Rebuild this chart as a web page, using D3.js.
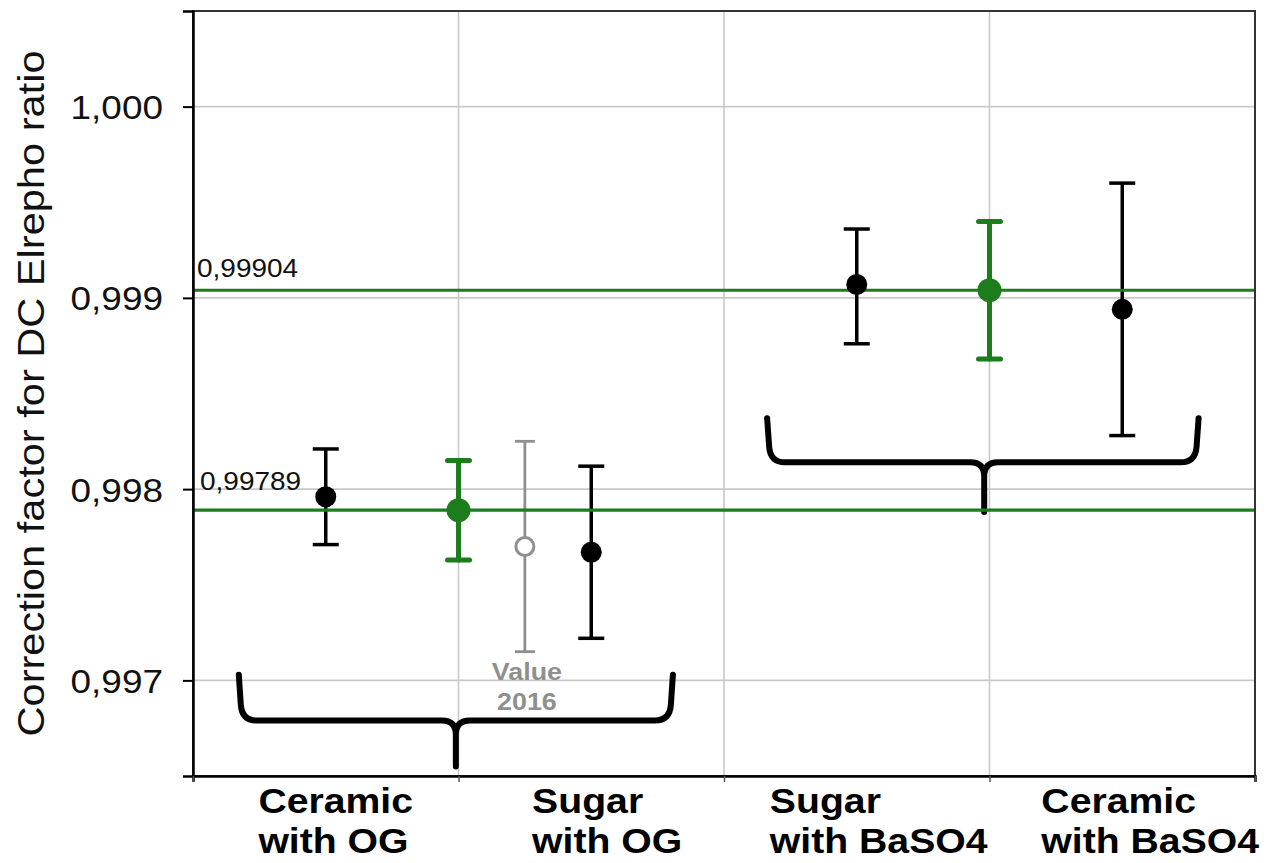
<!DOCTYPE html>
<html lang="en">
<head>
<meta charset="UTF-8">
<title>Correction factor for DC Elrepho ratio</title>
<script src="https://cdn.jsdelivr.net/npm/d3@7"></script>
<style>
  body { margin: 0; background: #fff; }
  text { font-family: "Liberation Sans", Arial, sans-serif; }
</style>
</head>
<body>
<div id="chart"></div>
<script>
// categories along the x axis (one band each)
var categories = [["Ceramic", "with OG"], ["Sugar", "with OG"], ["Sugar", "with BaSO4"], ["Ceramic", "with BaSO4"]];

// measured points (position in band units, value, error bar low / high)
var pointPos   = [0.5, 1.0, 1.25, 1.5, 2.5, 3.0, 3.5];
var pointValue = [0.99796, 0.99789, 0.99770, 0.99767, 0.99907, 0.99904, 0.99894];
var errLow     = [0.99771, 0.99763, 0.99715, 0.99722, 0.99876, 0.99868, 0.99828];
var errHigh    = [0.99821, 0.99815, 0.99825, 0.99812, 0.99936, 0.99940, 0.99960];
var pointKind  = ["black", "green", "old", "black", "black", "green", "black"];

// reference (mean) lines
var refValues = [0.99904, 0.99789];
var refLabels = ["0,99904", "0,99789"];

var yTicks = [0.997, 0.998, 0.999, 1.000];

// group braces: [x start, x cusp, x end] in band units, [top, bar, tip] in values
var braceX = [[0.18, 0.99, 1.80], [2.17, 2.98, 3.78]];
var braceY = [[0.99703, 0.99679, 0.99655], [0.99837, 0.99814, 0.99788]];

var width = 1272, height = 863;
var margin = {top: 11, right: 17, bottom: 87, left: 193};
var stretch = 1.12; // the original lettering is a bit wide

var green = "#1d7d1d", gray = "#8f8f8f";
var styles = {
    black: {stroke: "#000", sw: 3.5, cap: 13, r: 10.5, fill: "#000", linecap: "butt"},
    green: {stroke: green, sw: 5, cap: 11, r: 12, fill: green, linecap: "round"},
    old:   {stroke: gray, sw: 2.8, cap: 10, r: 9, fill: "#fff", linecap: "butt"}
};

function wide(px, py) {
    return "translate(" + px + "," + py + ") scale(" + stretch + ",1)";
}

var svg = d3.select("#chart").append("svg")
    .attr("width", width)
    .attr("height", height);

var x = d3.scaleLinear().domain([0, 4]).range([margin.left, width - margin.right]);
var y = d3.scaleLinear().domain([0.9965, 1.0005]).range([height - margin.bottom, margin.top]);

// grid
svg.append("g").selectAll("line.h")
    .data(yTicks).enter().append("line")
    .attr("x1", x(0)).attr("x2", x(4))
    .attr("y1", function(d) { return y(d); })
    .attr("y2", function(d) { return y(d); })
    .style("stroke", "#c9c9c9").style("stroke-width", 1.6);

svg.append("g").selectAll("line.v")
    .data([1, 2, 3]).enter().append("line")
    .attr("y1", y.range()[0]).attr("y2", y.range()[1])
    .attr("x1", function(d) { return x(d); })
    .attr("x2", function(d) { return x(d); })
    .style("stroke", "#c9c9c9").style("stroke-width", 1.6);

// braces
function bracePath(bx, by) {
    var x0 = x(bx[0]), xc = x(bx[1]), x1 = x(bx[2]);
    var yt = y(by[0]), ym = y(by[1]), yp = y(by[2]);
    var r = 16, c = 14;
    return "M" + (x0 - 2) + "," + yt +
        " L" + x0 + "," + (ym - r) +
        " Q" + (x0 + 1) + "," + ym + " " + (x0 + r) + "," + ym +
        " L" + (xc - c) + "," + ym +
        " Q" + xc + "," + ym + " " + xc + "," + (ym + c) +
        " L" + xc + "," + yp +
        " M" + xc + "," + (ym + c) +
        " Q" + xc + "," + ym + " " + (xc + c) + "," + ym +
        " L" + (x1 - r) + "," + ym +
        " Q" + (x1 - 1) + "," + ym + " " + x1 + "," + (ym - r) +
        " L" + (x1 + 2) + "," + yt;
}
svg.append("g").selectAll("path")
    .data(d3.range(braceX.length)).enter().append("path")
    .attr("d", function(i) { return bracePath(braceX[i], braceY[i]); })
    .style("fill", "none").style("stroke", "#000")
    .style("stroke-width", 6).style("stroke-linejoin", "round").style("stroke-linecap", "round");

// error bars
var idx = d3.range(pointPos.length);
var bars = svg.append("g").selectAll("g")
    .data(idx).enter().append("g")
    .style("stroke", function(i) { return styles[pointKind[i]].stroke; })
    .style("stroke-width", function(i) { return styles[pointKind[i]].sw; })
    .style("stroke-linecap", function(i) { return styles[pointKind[i]].linecap; });

bars.append("line")
    .attr("x1", function(i) { return x(pointPos[i]); })
    .attr("x2", function(i) { return x(pointPos[i]); })
    .attr("y1", function(i) { return y(errLow[i]); })
    .attr("y2", function(i) { return y(errHigh[i]); });
[errLow, errHigh].forEach(function(arr) {
    bars.append("line")
        .attr("x1", function(i) { return x(pointPos[i]) - styles[pointKind[i]].cap; })
        .attr("x2", function(i) { return x(pointPos[i]) + styles[pointKind[i]].cap; })
        .attr("y1", function(i) { return y(arr[i]); })
        .attr("y2", function(i) { return y(arr[i]); });
});

// reference lines
svg.append("g").selectAll("line")
    .data(refValues).enter().append("line")
    .attr("x1", x(0)).attr("x2", x(4))
    .attr("y1", function(d) { return y(d); })
    .attr("y2", function(d) { return y(d); })
    .style("stroke", green).style("stroke-width", 3.2);

svg.append("g").selectAll("text")
    .data(refValues).enter().append("text")
    .attr("transform", function(d, i) {
        return wide(x(0) + (i === 0 ? 4 : 7), y(d) - (i === 0 ? 13 : 20));
    })
    .style("font-size", "25px").style("fill", "#111")
    .text(function(d, i) { return refLabels[i]; });

// points
svg.append("g").selectAll("circle")
    .data(idx).enter().append("circle")
    .attr("cx", function(i) { return x(pointPos[i]); })
    .attr("cy", function(i) { return y(pointValue[i]); })
    .attr("r", function(i) { return styles[pointKind[i]].r; })
    .style("fill", function(i) { return styles[pointKind[i]].fill; })
    .style("stroke", function(i) { return pointKind[i] === "old" ? gray : "none"; })
    .style("stroke-width", 3);

// "Value 2016" note under the old point
var oldIdx = pointKind.indexOf("old");
svg.append("text")
    .attr("transform", wide(x(pointPos[oldIdx]) + 2, y(errLow[oldIdx]) + 28))
    .attr("text-anchor", "middle")
    .style("font-size", "24px").style("font-weight", "bold").style("fill", gray)
    .selectAll("tspan").data(["Value", "2016"]).enter().append("tspan")
    .attr("x", 0)
    .attr("dy", function(d, i) { return i ? 30 : 0; })
    .text(function(d) { return d; });

// frame
svg.append("rect")
    .attr("x", x(0)).attr("y", y.range()[1])
    .attr("width", x(4) - x(0)).attr("height", y.range()[0] - y.range()[1])
    .style("fill", "none").style("stroke", "#333").style("stroke-width", 2);

// y axis
var yAxis = d3.axisLeft(y).tickValues(yTicks).tickSize(10).tickPadding(14)
    .tickFormat(function(d) { return d3.format(".3f")(d).replace(".", ","); });
var gy = svg.append("g").attr("transform", "translate(" + x(0) + ",0)").call(yAxis);
gy.select(".domain").style("stroke", "#000").style("stroke-width", 2.5);
gy.selectAll(".tick line").style("stroke", "#000").style("stroke-width", 2);
gy.selectAll(".tick text")
    .attr("x", 0).attr("dy", "0.36em")
    .attr("transform", wide(-30, 0))
    .style("font-size", "33px").style("fill", "#111")
    .style("font-family", "'Liberation Sans', Arial, sans-serif");

// x axis (ticks on band edges, labels in bands)
var xAxis = d3.axisBottom(x).tickValues([0, 1, 2, 3, 4]).tickSize(6).tickFormat("");
var gx = svg.append("g").attr("transform", "translate(0," + y.range()[0] + ")").call(xAxis);
gx.select(".domain").style("stroke", "#000").style("stroke-width", 2.5);
gx.selectAll(".tick line").style("stroke", "#555").style("stroke-width", 1.5);

var labels = svg.append("g").selectAll("text")
    .data(categories).enter().append("text")
    .style("font-size", "35px").style("font-weight", "bold").style("fill", "#000");
labels.each(function(lines, i) {
    var t = d3.select(this);
    var spans = t.selectAll("tspan").data(lines).enter().append("tspan")
        .attr("x", 0)
        .attr("dy", function(d, k) { return k ? 40 : 0; })
        .text(function(d) { return d; });
    var w = stretch * d3.max(spans.nodes(), function(n) { return n.getComputedTextLength(); });
    var left = x(i + 0.5) + 10 + 6 * i - w / 2;
    t.attr("transform", wide(left, y.range()[0] + 37));
});

// y title
svg.append("text")
    .attr("transform", "translate(" + 44 + "," + y(0.9985) + ") rotate(-90)")
    .attr("text-anchor", "middle")
    .attr("textLength", 686).attr("lengthAdjust", "spacingAndGlyphs")
    .style("font-size", "36px").style("fill", "#111")
    .text("Correction factor for DC Elrepho ratio");
</script>
</body>
</html>
